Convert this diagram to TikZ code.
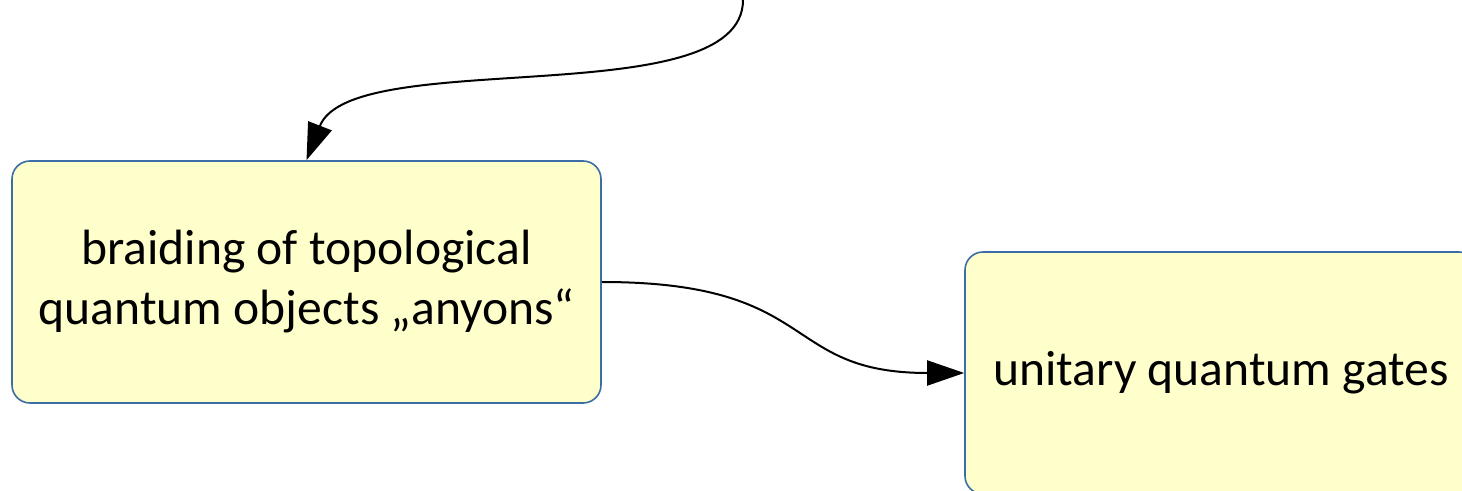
\documentclass[tikz,border=0pt]{standalone}
\usepackage{fontspec}
\setmainfont{Carlito}
\usetikzlibrary{arrows.meta}

\definecolor{boxfill}{HTML}{FFFFCC}
\definecolor{boxline}{HTML}{3A6EA5}

\tikzset{
  box/.style={draw=boxline, fill=boxfill, line width=0.8pt, rounded corners=9pt,
    align=center, inner sep=0pt, font=\fontsize{24.8}{30}\selectfont},
  flow/.style={line width=1pt, -{Triangle[length=18.5pt,width=12.5pt]}}
}

\begin{document}
\begin{tikzpicture}[x=0.5pt, y=-0.5pt]
\useasboundingbox (0,0) rectangle (1462,491);
\node[box, minimum width=294.5pt, minimum height=121pt] (braid) at (306.5,282)
  {braiding of topological\\quantum objects „anyons“};
\node[box, minimum width=256pt, minimum height=121pt] (gates) at (1221,373)
  {unitary quantum gates};
\coordinate (top) at (743,0);
\draw[flow] (top) .. controls +(0,115) and +(45,-115) .. (braid.north);
\draw[flow] (braid.east) .. controls +(220,0) and +(-185,0) .. (gates.west);
\end{tikzpicture}
\end{document}
